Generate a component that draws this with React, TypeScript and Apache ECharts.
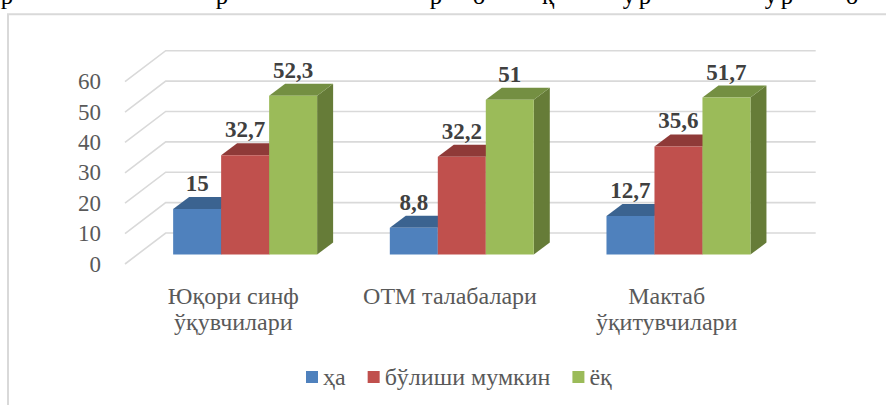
import React, { useEffect, useRef } from "react";
import * as echarts from "echarts";

const categories = ["Юқори синф\nўқувчилари", "ОТМ талабалари", "Мактаб\nўқитувчилари"];
const seriesNames = ["ҳа", "бўлиши мумкин", "ёқ"];
const yes = [15, 8.8, 12.7];
const maybe = [32.7, 32.2, 35.6];
const no = [52.3, 51, 51.7];
const yTicks = [0, 10, 20, 30, 40, 50, 60];
const frontColors = ["#4F81BD", "#C0504D", "#9BBB59"];
const topColors = ["#3B6390", "#8F3A38", "#748F42"];
const sideColors = ["#375A85", "#7F3331", "#667C38"];
const clippedLineGlyphs = ["р", "р", "р", "о", "қ", "у", "р", "у", "р", "о"];
const clippedLineX = [7, 222, 436, 479, 548, 629, 645, 771, 787, 852];

const FONT = "'Liberation Serif', serif";
const WALL_DX = 40.7;
const WALL_DY = -31;
const BAR_OFFSET_X = 11.8;
const BAR_OFFSET_Y = -9.4;
const BAR_DX = 16;
const BAR_DY = -12;
const BAR_RATIO = 0.2215;

const fmt = (v: number) => String(v).replace(".", ",");

function wallItem(params: any, api: any) {
  const y = api.coord([0, api.value(1)])[1];
  const cs = params.coordSys;
  return {
    type: "polyline",
    silent: true,
    shape: {
      points: [
        [cs.x, y],
        [cs.x + WALL_DX, y + WALL_DY],
        [cs.x + cs.width + WALL_DX, y + WALL_DY],
      ],
    },
    style: { stroke: "#D9D9D9", lineWidth: 1.6, fill: "none" },
  };
}

function barRenderer(idx: number) {
  return (_params: any, api: any) => {
    const value = api.value(1);
    const c = api.coord([api.value(0), value]);
    const base = api.coord([api.value(0), 0]);
    const band = api.size([1, 0])[0];
    const w = band * BAR_RATIO;
    const x0 = c[0] + BAR_OFFSET_X + (idx - 1.5) * w;
    const x1 = x0 + w;
    const yT = c[1] + BAR_OFFSET_Y;
    const yB = base[1] + BAR_OFFSET_Y;
    return {
      type: "group",
      children: [
        {
          type: "polygon",
          shape: { points: [[x1, yT], [x1 + BAR_DX, yT + BAR_DY], [x1 + BAR_DX, yB + BAR_DY], [x1, yB]] },
          style: { fill: sideColors[idx] },
        },
        {
          type: "polygon",
          shape: { points: [[x0, yT], [x0 + BAR_DX, yT + BAR_DY], [x1 + BAR_DX, yT + BAR_DY], [x1, yT]] },
          style: { fill: topColors[idx] },
        },
        {
          type: "rect",
          shape: { x: x0, y: yT, width: w, height: yB - yT },
          style: { fill: frontColors[idx] },
        },
        {
          type: "text",
          z2: 10,
          style: {
            x: (x0 + x1) / 2,
            y: yT - 14,
            text: fmt(value),
            align: "center",
            verticalAlign: "bottom",
            font: `bold 23px ${FONT}`,
            fill: "#404040",
          },
        },
      ],
    };
  };
}

export default function App() {
  const ref = useRef<HTMLDivElement>(null);
  useEffect(() => {
    const chart = echarts.init(ref.current!, null, { renderer: "svg" });
    const values = [yes, maybe, no];
    chart.setOption({
      animation: false,
      backgroundColor: "#ffffff",
      grid: { left: 125, width: 650, top: 81.7, height: 182.3 },
      xAxis: {
        type: "category",
        data: categories,
        axisLine: { show: false },
        axisTick: { show: false },
        axisLabel: {
          margin: 19,
          interval: 0,
          fontFamily: FONT,
          fontSize: 24,
          lineHeight: 26,
          color: "#595959",
          verticalAlign: "top",
        },
      },
      yAxis: {
        type: "value",
        min: 0,
        max: 60,
        interval: 10,
        axisLine: { show: false },
        axisTick: { show: false },
        splitLine: { show: false },
        axisLabel: { margin: 24, fontFamily: FONT, fontSize: 23, color: "#595959" },
      },
      legend: {
        left: 306,
        top: 365,
        padding: 0,
        icon: "rect",
        itemWidth: 12,
        itemHeight: 12,
        itemGap: 22,
        data: seriesNames,
        textStyle: { fontFamily: FONT, fontSize: 24, color: "#595959", padding: [0, 0, 0, 0] },
      },
      graphic: [
        {
          type: "polyline",
          silent: true,
          shape: { points: [[8, 406], [8, 14.3], [887, 14.3]] },
          style: { stroke: "#D9D9D9", lineWidth: 2, fill: "none" },
        },
        ...clippedLineGlyphs.map((g, i) => ({
          type: "text",
          silent: true,
          x: clippedLineX[i],
          y: 8,
          style: {
            text: g,
            font: `25px ${FONT}`,
            fill: "#000000",
            align: "center",
            verticalAlign: "bottom",
          },
        })),
      ],
      series: [
        {
          type: "custom",
          name: "wall",
          silent: true,
          clip: false,
          z: 1,
          renderItem: wallItem,
          data: yTicks.map((t) => [0, t]),
          encode: { x: 0, y: 1 },
        },
        ...seriesNames.map((name, idx) => ({
          type: "custom",
          name,
          clip: false,
          z: 2 + idx,
          itemStyle: { color: frontColors[idx] },
          renderItem: barRenderer(idx),
          data: values[idx].map((v, i) => [i, v]),
          encode: { x: 0, y: 1 },
        })),
      ],
    });
    return () => chart.dispose();
  }, []);
  return (
    <div
      ref={ref}
      style={{ position: "fixed", left: 0, top: 0, width: 886, height: 405 }}
    />
  );
}
